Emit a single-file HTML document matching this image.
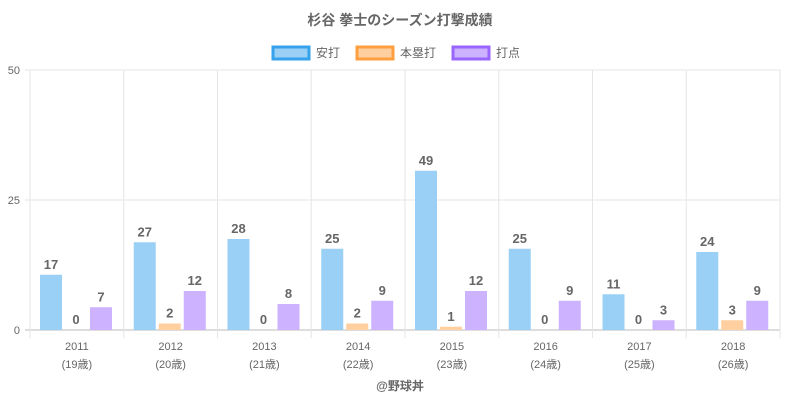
<!DOCTYPE html>
<html><head><meta charset="utf-8"><style>
body{margin:0;background:#fff;}
svg{display:block;font-family:"Liberation Sans","Noto Sans CJK JP",sans-serif;}
</style></head><body>
<svg id="c" width="800" height="400">
<text x="400" y="25" text-anchor="middle" font-size="14" font-weight="bold" fill="#666">杉谷 拳士のシーズン打撃成績</text>
<g>
<g><rect x="273" y="47" width="36" height="12" fill="#9ad0f5" stroke="#36a2eb" stroke-width="3"/><text x="316" y="57" font-size="12" fill="#666">安打</text></g>
<g><rect x="357" y="47" width="36" height="12" fill="#ffcf9f" stroke="#ff9f40" stroke-width="3"/><text x="400" y="57" font-size="12" fill="#666">本塁打</text></g>
<g><rect x="453" y="47" width="36" height="12" fill="#ccb2ff" stroke="#9966ff" stroke-width="3"/><text x="496" y="57" font-size="12" fill="#666">打点</text></g>
</g>
<g id="grid"></g><g id="bars"></g>
<text x="400" y="390" text-anchor="middle" font-size="12" font-weight="bold" fill="#666">@野球丼</text>
</svg>
<script>
const years=["2011","2012","2013","2014","2015","2016","2017","2018"];
const ages=["(19歳)","(20歳)","(21歳)","(22歳)","(23歳)","(24歳)","(25歳)","(26歳)"];
const hits=[17,27,28,25,49,25,11,24];
const homeruns=[0,2,0,2,1,0,0,3];
const rbi=[7,12,8,9,12,9,3,9];
const yTicks=[0,25,50];
const displayScale=0.625;
const L=30,R=780,T=70,B=330,NS="http://www.w3.org/2000/svg";
const y=v=>B-(v/50)*(B-T);
const cw=(R-L)/years.length;
const x=i=>L+i*cw;
function mk(t,a,p){const e=document.createElementNS(NS,t);for(const k in a)e.setAttribute(k,a[k]);p.appendChild(e);return e;}
const g=document.getElementById('grid'),b=document.getElementById('bars');
yTicks.forEach(v=>{
 const l=mk('line',{x1:L-5,x2:R,y1:y(v),y2:y(v),stroke:v===0?'#bbb':'#e6e6e6'},g);
 
 
 const t=mk('text',{x:L-10,y:y(v)+4,'text-anchor':'end','font-size':11,fill:'#666'},g);t.textContent=v;
 
 
});
for(let i=0;i<=years.length;i++){
 const l=mk('line',{x1:x(i),x2:x(i),y1:T,y2:B+8,stroke:'#e6e6e6'},g);
 
 
}
const series=[[hits,'#9ad0f5','hits'],[homeruns,'#ffcf9f','homeruns'],[rbi,'#ccb2ff','rbi']];
years.forEach((yr,i)=>{
 const t1=mk('text',{x:x(i)+cw/2,y:350,'text-anchor':'middle','font-size':11,fill:'#666'},g);t1.textContent=yr;
 
 
 const t2=mk('text',{x:x(i)+cw/2,y:368,'text-anchor':'middle','font-size':11,fill:'#666'},g);t2.textContent=ages[i];
 
 
 series.forEach((s,j)=>{
  const v=s[0][i],bx=x(i)+10+j*25,bw=22,top=y(v*displayScale);
  const r=mk('rect',{x:bx,y:top,width:bw,height:B-top,fill:s[1]},b);
  
  
  const t=mk('text',{x:bx+bw/2,y:top-6,'text-anchor':'middle','font-size':13,'font-weight':'bold',fill:'#666'},b);t.textContent=v;
  
  
 });
});
</script>
</body></html>
